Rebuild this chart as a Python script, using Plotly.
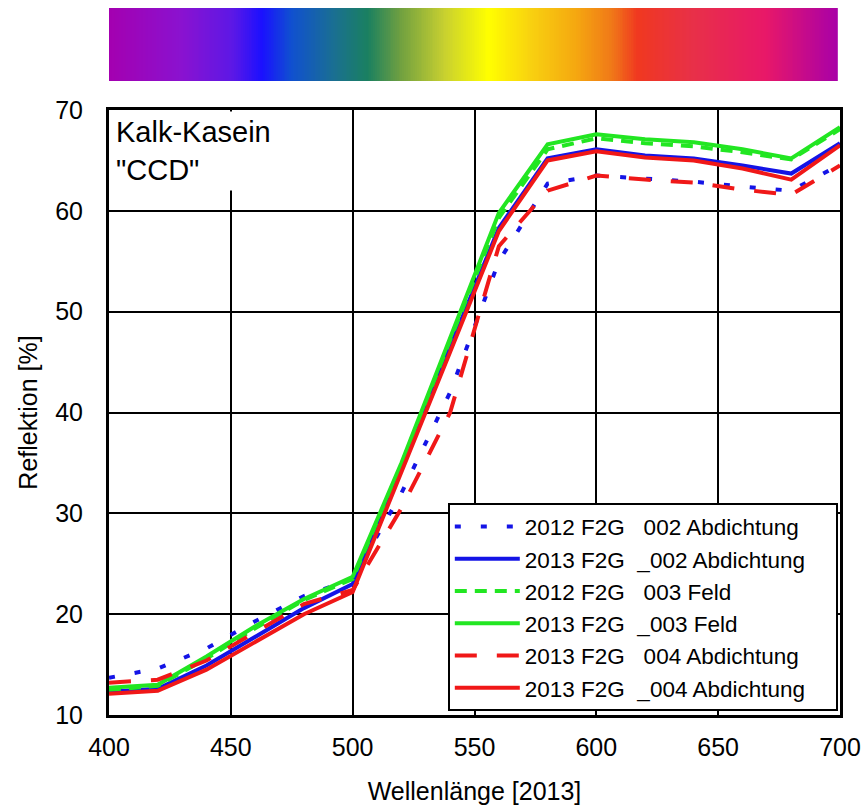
import numpy as np
import plotly.graph_objects as go

wavelength = [400, 420, 440, 460, 480, 500, 520, 540, 560, 580, 600, 620, 640, 660, 680, 700]

blue_dot_2012 = [13.7, 14.6, 16.6, 19.3, 21.8, 23.5, 32.0, 42.0, 55.0, 62.7, 63.5, 63.2, 62.9, 62.4, 62.0, 64.6]
blue_solid_2013 = [12.3, 12.6, 14.9, 17.8, 20.6, 23.0, 34.5, 46.5, 58.3, 65.2, 66.1, 65.5, 65.2, 64.5, 63.7, 66.7]
green_dash_2012 = [12.5, 12.9, 15.6, 18.6, 21.4, 23.5, 34.8, 47.2, 59.3, 66.1, 67.2, 66.7, 66.4, 65.8, 65.1, 68.1]
green_solid_2013 = [12.7, 13.0, 15.8, 18.8, 21.5, 23.7, 35.0, 47.5, 59.8, 66.6, 67.6, 67.1, 66.8, 66.1, 65.2, 68.3]
red_dash_2013 = [13.2, 13.5, 15.4, 18.2, 21.0, 22.4, 30.5, 40.0, 56.5, 62.0, 63.5, 63.1, 62.8, 62.1, 61.6, 64.5]
red_solid_2013 = [12.1, 12.4, 14.5, 17.3, 20.0, 22.2, 34.0, 46.0, 58.0, 65.0, 65.9, 65.3, 65.0, 64.2, 63.1, 66.5]

pad = "\u00a0" * 4
series_names = [
    "2012 F2G\u00a0\u00a0\u00a0002 Abdichtung" + pad,
    "2013 F2G\u00a0\u00a0_002 Abdichtung" + pad,
    "2012 F2G\u00a0\u00a0\u00a0003 Feld",
    "2013 F2G\u00a0\u00a0_003 Feld",
    "2013 F2G\u00a0\u00a0\u00a0004 Abdichtung" + pad,
    "2013 F2G\u00a0\u00a0_004 Abdichtung" + pad,
]
series_values = [blue_dot_2012, blue_solid_2013, green_dash_2012, green_solid_2013, red_dash_2013, red_solid_2013]
series_colors = ["#1414E6", "#1414E6", "#22E622", "#22E622", "#F01818", "#F01818"]
series_dash = ["6px,20px", "solid", "12px,8px", "solid", "22px,20px", "solid"]

x_ticks = [400, 450, 500, 550, 600, 650, 700]
y_ticks = [10, 20, 30, 40, 50, 60, 70]

# spectrum colour stops (position, colour)
spectrum_stops = [
    [0.00, "#A400B0"], [0.10, "#8A12D0"], [0.17, "#5C18E6"], [0.21, "#1A10FF"],
    [0.25, "#1050D0"], [0.31, "#1A7090"], [0.355, "#1A8060"], [0.40, "#70A040"],
    [0.46, "#C8D030"], [0.52, "#FFFF00"], [0.58, "#F8D010"], [0.64, "#F5A810"],
    [0.69, "#F07818"], [0.725, "#F03820"], [0.80, "#E83048"], [0.90, "#E81868"],
    [1.00, "#A800A8"],
]

fig = go.Figure()

for name, vals, col, dash in zip(series_names, series_values, series_colors, series_dash):
    fig.add_trace(go.Scatter(
        x=wavelength, y=vals, mode="lines", name=name, legendgroup=name,
        line=dict(color=col, width=4, dash=dash),
        xaxis="x", yaxis="y",
    ))

grad = np.linspace(0, 1, 400)
fig.add_trace(go.Heatmap(
    z=[grad], x=grad, colorscale=spectrum_stops, showscale=False,
    xaxis="x2", yaxis="y2", hoverinfo="skip",
))

font_family = "Liberation Sans, Arial, sans-serif"

fig.update_layout(
    width=861, height=807,
    margin=dict(l=109, r=21, t=8, b=92, autoexpand=False),
    paper_bgcolor="white", plot_bgcolor="white",
    font=dict(family=font_family, color="black", size=25),
    showlegend=True,
    xaxis=dict(
        range=[400, 700], tickvals=x_ticks, showgrid=True, gridcolor="black", gridwidth=1.5,
        showline=True, linecolor="black", linewidth=3, mirror=True,
        ticks="outside", ticklen=8, tickcolor="rgba(0,0,0,0)",
        tickfont=dict(size=25), zeroline=False, automargin=False,
        title=dict(text="Wellenlänge [2013]", font=dict(size=25), standoff=23),
        anchor="y", domain=[0, 1],
    ),
    yaxis=dict(
        range=[10, 70], tickvals=y_ticks, showgrid=True, gridcolor="black", gridwidth=1.5,
        showline=True, linecolor="black", linewidth=3, mirror=True,
        ticks="outside", ticklen=18, tickcolor="rgba(0,0,0,0)",
        tickfont=dict(size=25), zeroline=False, automargin=False,
        title=dict(text="Reflektion [%]", font=dict(size=25), standoff=11),
        anchor="x", domain=[0, 0.8557],
    ),
    xaxis2=dict(range=[0, 1], visible=False, anchor="y2", domain=[0, 0.997], automargin=False),
    yaxis2=dict(range=[-0.5, 0.5], visible=False, anchor="x2", domain=[0.8967, 1.0], automargin=False),
    legend=dict(
        x=0.997, y=0.005, xanchor="right", yanchor="bottom",
        bgcolor="white", bordercolor="black", borderwidth=2,
        font=dict(size=22.5, family=font_family, color="black"),
        itemwidth=65, tracegroupgap=0, traceorder="normal",
    ),
    annotations=[dict(
        text="Kalk-Kasein<br>\"CCD\"", xref="paper", yref="paper",
        x=0.003, y=0.8545, xanchor="left", yanchor="top", align="left",
        showarrow=False, bgcolor="white", borderpad=4,
        font=dict(size=29, family=font_family, color="black"),
    )],
)

fig.write_html("out.html")
